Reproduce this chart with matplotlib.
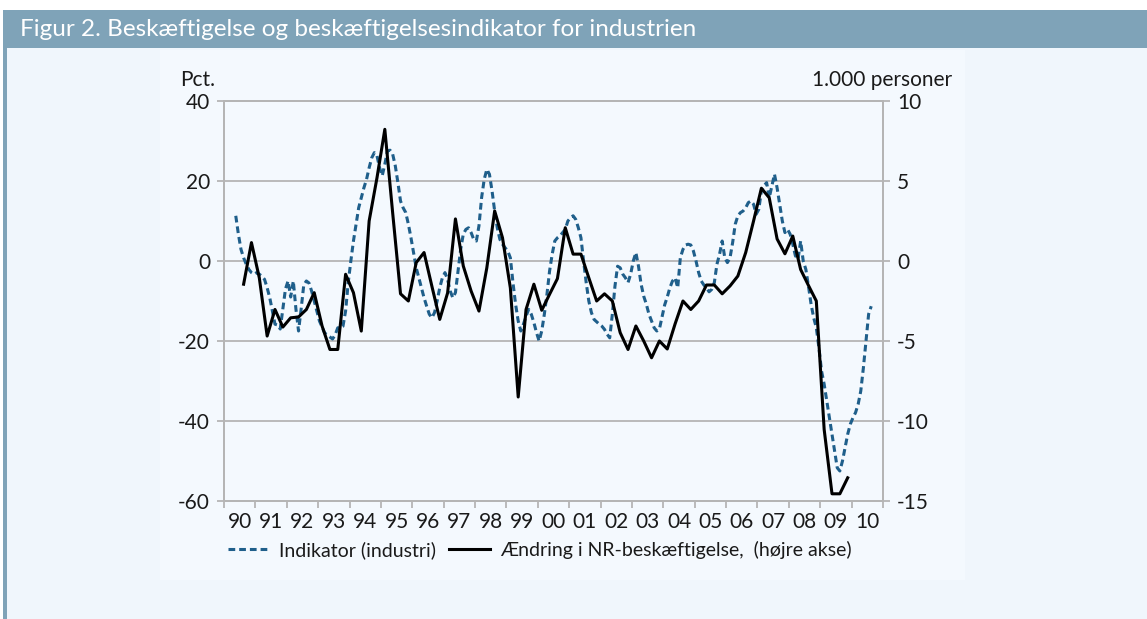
import matplotlib
matplotlib.use("Agg")
import matplotlib.pyplot as plt
from matplotlib.patches import Rectangle
import pandas as pd

plt.rcParams['font.family'] = ['Lato', 'DejaVu Sans']
plt.rcParams['axes.unicode_minus'] = False

# Indikator (industri), pct. - monthly, first value May 1990
indikator_start = '1990-05'
indikator = [
    11.3, 6.7, 2.9, 0.8, -0.8, -2.1, -2.9, -3.3,                          # 1990
    -2.9, -3.3, -3.8, -4.6, -6.7, -9.2, -12.5, -15.8, -16, -17, -12, -7,  # 1991
    -5, -9, -5, -12, -17.5, -12, -6, -5, -5.5, -7.5, -10, -12.5,          # 1992
    -15, -16.5, -18, -18.5, -19, -19.5, -18.5, -16.7, -16.7, -16.3, -12.5, -5.4,  # 1993
    0, 5, 9.2, 13.3, 15.8, 18.3, 20.4, 23.3, 25.8, 27.1, 26.3, 23.3,      # 1994
    21.3, 24.2, 27.5, 27.7, 26.7, 23.8, 19.6, 15, 13.3, 12.1, 9.2, 5.8,   # 1995
    2.1, -1.7, -4.2, -6.7, -9.2, -11.3, -13.3, -14.2, -12.9, -10, -6.7, -4.2,  # 1996
    -2.9, -4.6, -7.5, -9.2, -7.9, -2.5, 2.9, 6.7, 7.9, 8.3, 7.1, 5.4,     # 1997
    5, 8.8, 15.8, 20.4, 22.9, 21.7, 17.5, 12.5, 8.3, 5.4, 4.2, 3.3,       # 1998
    2.5, 0.8, -5.4, -10.8, -15, -17.5, -15.8, -13.8, -12.1, -13.3, -15.4, -17.9,  # 1999
    -20, -17.5, -13.3, -8.3, -2.5, 1.7, 5, 5.8, 6.3, 7.1, 7.9, 10,        # 2000
    10.8, 11.3, 10.4, 8.3, 5.8, 0, -5.4, -10, -12.9, -14.6, -15.2, -15.8,  # 2001
    -16.3, -17.1, -18.3, -19.2, -13.3, -6.3, -1.3, -1.7, -3.3, -4.2, -5.4, -3.3,  # 2002
    0, 2.1, -1.3, -5.8, -8.8, -10.8, -13.3, -15, -16.7, -17.5, -17, -14,  # 2003
    -11, -9, -6.7, -5, -4.2, -6.7, 0.8, 2.9, 4, 4.2, 4, 2.5,              # 2004
    0, -2.9, -5, -6, -6.7, -7.7, -7.1, -5.4, -0.8, 1.7, 5, 0.8,           # 2005
    -0.4, 0.8, 4.6, 9.2, 11.3, 12.1, 12.5, 13.3, 14.6, 15, 14.2, 11.7,    # 2006
    12.9, 17.5, 18.8, 19.6, 15.8, 18.8, 21.7, 18.3, 14.2, 10, 7.1, 7.9,   # 2007
    6.7, 4.2, 1.3, 0.4, 5, 0, -2.1, -6.3, -10.8, -14.2, -16.7, -21.7,     # 2008
    -27.5, -30.8, -35, -39.2, -43.3, -47.5, -51.7, -52.5, -50, -46.7, -43.3, -40.8,  # 2009
    -39.2, -37.9, -35.8, -32.5, -26.7, -20, -13.3, -11.3,                 # 2010
]

# Ændring i NR-beskæftigelse, 1.000 personer - quarterly, first value 1990Q3
beskaeft_start = '1990Q3'
beskaeft = [
    -1.45, 1.15,
    -1.05, -4.69, -3.03, -4.13,
    -3.55, -3.5, -3.03, -1.98,
    -4.06, -5.53, -5.53, -0.83,
    -1.98, -4.38, 2.5, 5.2,
    8.23, 3.0, -2.05, -2.5,
    -0.1, 0.53, -1.58, -3.65,
    -2.0, 2.63, -0.31, -1.88,
    -3.13, -0.43, 3.13, 1.45,
    -1.68, -8.5, -3.03, -1.45,
    -3.08, -2.08, -1.1, 2.08,
    0.43, 0.43, -1.05, -2.5,
    -2.05, -2.5, -4.48, -5.53,
    -4.06, -5.0, -6.05, -5.0,
    -5.5, -3.93, -2.5, -3.03,
    -2.5, -1.5, -1.5, -2.05,
    -1.56, -0.94, 0.53, 2.5,
    4.55, 3.95, 1.38, 0.45,
    1.56, -0.53, -1.53, -2.5,
    -10.53, -14.55, -14.55, -13.55,
]

years = list(range(1990, 2011))
year_labels = [str(y)[2:] for y in years]
left_ticks = [-60, -40, -20, 0, 20, 40]
right_ticks = [-15, -10, -5, 0, 5, 10]

title = "Figur 2. Beskæftigelse og beskæftigelsesindikator for industrien"
lbl_ind = "Indikator (industri)"
lbl_besk = "Ændring i NR-beskæftigelse,  (højre akse)"

months = pd.period_range(indikator_start, periods=len(indikator), freq='M')
x_ind = months.year + (months.month - 0.5) / 12
quarters = pd.period_range(beskaeft_start, periods=len(beskaeft), freq='Q')
x_besk = quarters.year + (3 * quarters.quarter - 1.5) / 12

W, H = 1147, 619
fig = plt.figure(figsize=(W / 100, H / 100), dpi=100)
fig.patch.set_facecolor('white')

bar_col = '#7fa3b8'
grid_col = '#b5b5b5'
txt_col = '#1a1a1a'
tick_fs = 15

# background panels
fig.patches.append(Rectangle((7 / W, 0), 1, 1 - 48 / H, transform=fig.transFigure,
                             facecolor='#f0f6fc', edgecolor='none', zorder=-3))
fig.patches.append(Rectangle((160 / W, 1 - 580 / H), 805 / W, 530 / H, transform=fig.transFigure,
                             facecolor='#f4f9fe', edgecolor='none', zorder=-2))
fig.patches.append(Rectangle((3 / W, 0), 4 / W, 1 - 10 / H, transform=fig.transFigure,
                             facecolor=bar_col, edgecolor='none', zorder=-1))
fig.patches.append(Rectangle((3 / W, 1 - 48 / H), 1, 38 / H, transform=fig.transFigure,
                             facecolor=bar_col, edgecolor='none', zorder=-1))
fig.text(20 / W, 1 - 29 / H, title, color='white', fontsize=17.5, va='center', ha='left')

ax = fig.add_axes([224 / W, 1 - 501 / H, 659 / W, 400 / H])
ax.set_facecolor('none')
ax.set_xlim(1990, 2011)
ax.set_ylim(-60, 40)
ax.set_yticks(left_ticks)
ax.yaxis.grid(True, color=grid_col, lw=1.3)
ax.set_axisbelow(True)

ax.set_xticks(years + [2011])
ax.set_xticklabels([])
ax.set_xticks([y + 0.5 for y in years], minor=True)
ax.set_xticklabels(year_labels, minor=True)
ax.tick_params(axis='x', which='major', length=5, width=1.3, color=grid_col)
ax.tick_params(axis='x', which='minor', length=0, pad=8, labelsize=tick_fs, labelcolor=txt_col)
ax.tick_params(axis='y', length=5, width=1.3, color=grid_col, pad=5, labelsize=tick_fs, labelcolor=txt_col)
for s in ax.spines.values():
    s.set_color(grid_col)
    s.set_linewidth(1.3)

l1, = ax.plot(x_ind, indikator, color='#1f5f8b', lw=2.2, ls=(0, (2.2, 1.3)),
              label=lbl_ind, zorder=3)

ax2 = ax.twinx()
ax2.set_ylim(-15, 10)
ax2.set_yticks(right_ticks)
ax2.tick_params(axis='y', length=5, width=1.3, color=grid_col, pad=5, labelsize=tick_fs, labelcolor=txt_col)
for s in ax2.spines.values():
    s.set_color(grid_col)
    s.set_linewidth(1.3)
l2, = ax2.plot(x_besk, beskaeft, color='black', lw=2.2, label=lbl_besk, zorder=4)

fig.text(198 / W, 1 - 80 / H, "Pct.", fontsize=tick_fs, color=txt_col, ha='center', va='center')
fig.text(952 / W, 1 - 80 / H, "1.000 personer", fontsize=tick_fs, color=txt_col, ha='right', va='center')

fig.legend([l1, l2], [lbl_ind, lbl_besk], loc='center', bbox_to_anchor=(540 / W, 1 - 550 / H),
           ncol=2, frameon=False, fontsize=14, handlelength=2.1, handletextpad=0.5,
           columnspacing=0.7, labelcolor=txt_col)

fig.savefig('out.png', dpi=100)
